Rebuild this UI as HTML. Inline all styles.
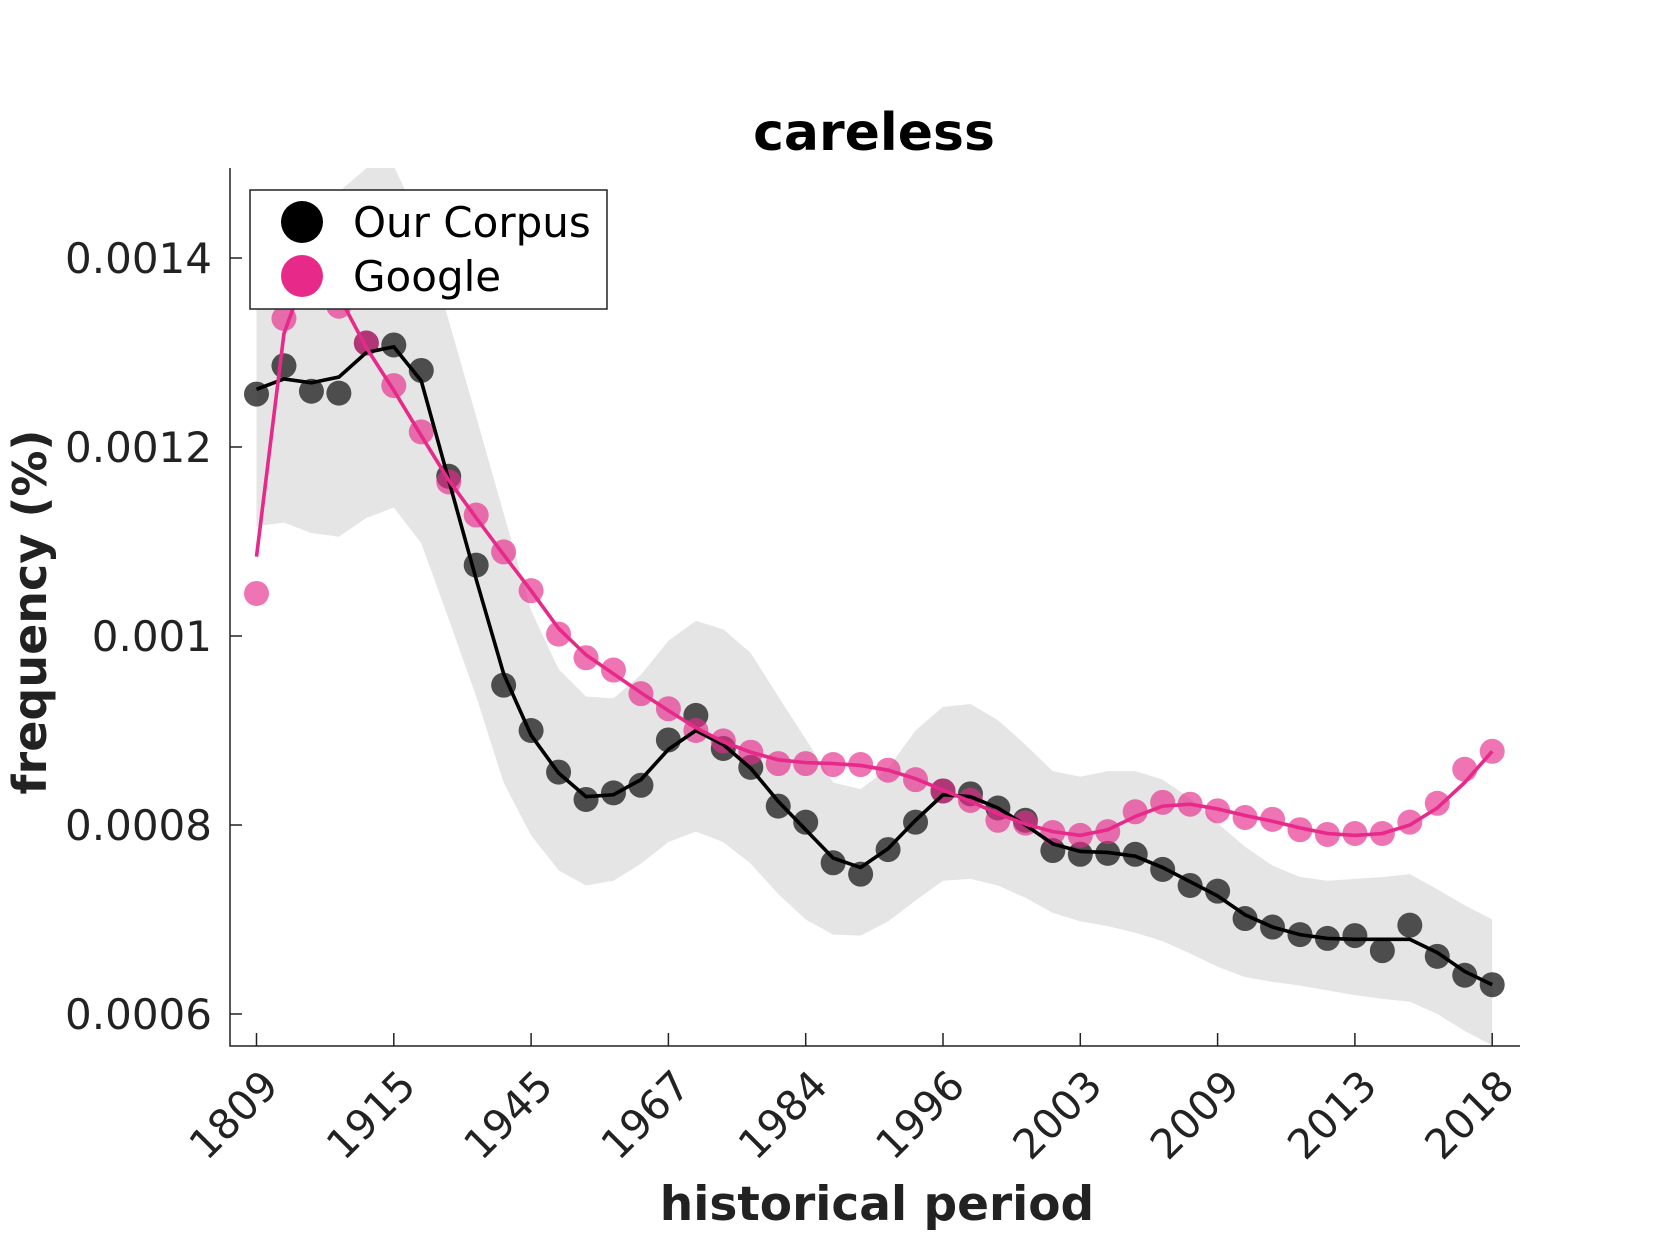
<!DOCTYPE html>
<html><head><meta charset="utf-8"><style>
html,body{margin:0;padding:0;background:#fff;}
svg{display:block;font-family:"DejaVu Sans","Liberation Sans",sans-serif;}
</style></head><body>
<svg id="chart" width="1680" height="1260" viewBox="0 0 1680 1260" xmlns="http://www.w3.org/2000/svg">
<defs><clipPath id="clip"><rect x="230" y="168" width="1290" height="878"/></clipPath></defs>
<text x="874" y="150" text-anchor="middle" font-size="52" font-weight="bold" fill="#000">careless</text>
<g id="band" clip-path="url(#clip)"></g>
<g id="series" clip-path="url(#clip)"></g>
<g id="axes"></g>
<text x="877" y="1220" text-anchor="middle" font-size="47" font-weight="bold" fill="#222">historical period</text>
<text transform="translate(46,612) rotate(-90)" text-anchor="middle" font-size="46" font-weight="bold" fill="#222">frequency (%)</text>
<g>
<rect x="250" y="190" width="357" height="119" fill="#fff" stroke="#222" stroke-width="1.5"/>
<circle cx="302" cy="222" r="21" fill="#000"/>
<text x="353" y="237" font-size="42" fill="#000">Our Corpus</text>
<circle cx="302" cy="276" r="21" fill="#e7298a"/>
<text x="353" y="291" font-size="42" fill="#000">Google</text>
</g>
</svg>
<script>
const tickLabels = ["1809","1915","1945","1967","1984","1996","2003","2009","2013","2018"];
const yTicks = [0.0006,0.0008,0.001,0.0012,0.0014];
const yTickLabels = ["0.0006","0.0008","0.001","0.0012","0.0014"];
const corpusDots = [0.001256,0.001286,0.001259,0.001257,0.001310,0.001308,0.001281,0.001169,0.001075,0.000948,0.000900,0.000856,0.000827,0.000834,0.000842,0.000890,0.000916,0.000881,0.000861,0.000820,0.000803,0.000760,0.000748,0.000774,0.000803,0.000836,0.000833,0.000818,0.000805,0.000773,0.000769,0.000770,0.000769,0.000753,0.000736,0.000730,0.000701,0.000692,0.000684,0.000680,0.000683,0.000667,0.000694,0.000661,0.000641,0.000631];
const corpusFit = [0.001261,0.001272,0.001268,0.001274,0.001300,0.001306,0.001270,0.001165,0.001060,0.000960,0.000895,0.000855,0.000830,0.000832,0.000848,0.000880,0.000900,0.000885,0.000860,0.000825,0.000795,0.000765,0.000755,0.000775,0.000805,0.000832,0.000830,0.000818,0.000800,0.000780,0.000772,0.000771,0.000767,0.000755,0.000740,0.000725,0.000705,0.000692,0.000684,0.000680,0.000679,0.000679,0.000679,0.000665,0.000645,0.000631];
const googleDots = [0.001045,0.001336,0.001410,0.001349,0.001310,0.001265,0.001216,0.001163,0.001128,0.001089,0.001048,0.001002,0.000977,0.000964,0.000939,0.000923,0.000900,0.000889,0.000877,0.000865,0.000865,0.000864,0.000864,0.000858,0.000848,0.000836,0.000826,0.000805,0.000802,0.000792,0.000789,0.000793,0.000814,0.000824,0.000822,0.000815,0.000808,0.000806,0.000795,0.000790,0.000791,0.000791,0.000803,0.000823,0.000859,0.000878];
const googleFit = [0.001084,0.001320,0.001400,0.001360,0.001305,0.001260,0.001212,0.001165,0.001125,0.001086,0.001048,0.001008,0.000980,0.000960,0.000940,0.000921,0.000903,0.000888,0.000877,0.000869,0.000866,0.000865,0.000863,0.000858,0.000849,0.000837,0.000825,0.000812,0.000801,0.000793,0.000789,0.000795,0.000809,0.000820,0.000822,0.000817,0.000810,0.000804,0.000797,0.000791,0.000789,0.000791,0.000800,0.000818,0.000845,0.000878];
const bandUpper = [0.001345,0.001391,0.001431,0.00147,0.001495,0.001497,0.001436,0.001334,0.001232,0.00113,0.001027,0.000965,0.000936,0.000934,0.000959,0.000995,0.001016,0.001007,0.000982,0.000936,0.000891,0.000845,0.000838,0.00086,0.0009,0.000925,0.000928,0.000911,0.000885,0.000857,0.000851,0.000857,0.000857,0.000848,0.000828,0.000802,0.000777,0.000757,0.000745,0.000741,0.000743,0.000745,0.000748,0.000732,0.000715,0.0007];
const bandLower = [0.001116,0.00112,0.001109,0.001105,0.001125,0.001136,0.001098,0.001018,0.000936,0.000845,0.000789,0.000752,0.000736,0.000741,0.000759,0.000782,0.000793,0.000782,0.000759,0.000727,0.0007,0.000684,0.000683,0.000698,0.00072,0.000741,0.000743,0.000736,0.000723,0.000707,0.000698,0.000693,0.000686,0.000677,0.000664,0.00065,0.000639,0.000634,0.00063,0.000625,0.00062,0.000616,0.000613,0.0006,0.000582,0.000567];

const NS = "http://www.w3.org/2000/svg";
const X0 = 256.5, DX = 27.46;
function xs(i){ return X0 + i*DX; }
function ys(v){ return 636 - (v - 0.001)*945000; }
function mk(tag, attrs, parent){ const e=document.createElementNS(NS,tag); for(const k in attrs) e.setAttribute(k,attrs[k]); parent.appendChild(e); return e; }

const band = document.getElementById('band');
let d = bandUpper.map((v,i)=>(i?'L':'M')+xs(i).toFixed(1)+','+ys(v).toFixed(1)).join(' ');
for(let i=bandLower.length-1;i>=0;i--) d += ' L'+xs(i).toFixed(1)+','+ys(bandLower[i]).toFixed(1);
const bp = mk('path',{d:d+' Z',fill:'#e5e5e5'},band);



const series = document.getElementById('series');
const gC = mk('g',{},series);


corpusDots.forEach((v,i)=>{
  const c = mk('circle',{cx:xs(i),cy:ys(v),r:12.5,fill:'#333','fill-opacity':0.85},gC);
  
  
});
const gG = mk('g',{},series);


googleDots.forEach((v,i)=>{
  const c = mk('circle',{cx:xs(i),cy:ys(v),r:12.5,fill:'#e7298a','fill-opacity':0.65},gG);
  
  
});
const lc = mk('polyline',{points:corpusFit.map((v,i)=>xs(i)+','+ys(v)).join(' '),fill:'none',stroke:'#000','stroke-width':3.6},series);


const lg = mk('polyline',{points:googleFit.map((v,i)=>xs(i)+','+ys(v)).join(' '),fill:'none',stroke:'#e7298a','stroke-width':3.6},series);



const axes = document.getElementById('axes');
mk('path',{d:'M230,168 L230,1046 L1520,1046',fill:'none',stroke:'#222','stroke-width':1.5},axes);
yTicks.forEach((v,i)=>{
  const y = ys(v);
  mk('line',{x1:230,y1:y,x2:242,y2:y,stroke:'#222','stroke-width':1.5},axes);
  const t = mk('text',{x:212,y:y+15,'text-anchor':'end','font-size':42,fill:'#222'},axes);
  t.textContent = yTickLabels[i];
  
  
});
tickLabels.forEach((lab,k)=>{
  const x = xs(k*5);
  mk('line',{x1:x,y1:1046,x2:x,y2:1033,stroke:'#222','stroke-width':1.5},axes);
  const t = mk('text',{x:0,y:0,'text-anchor':'end','font-size':41,fill:'#222',transform:'translate('+(x+24)+',1088) rotate(-45)'},axes);
  t.textContent = lab;
  
  
});
</script>
</body></html>
